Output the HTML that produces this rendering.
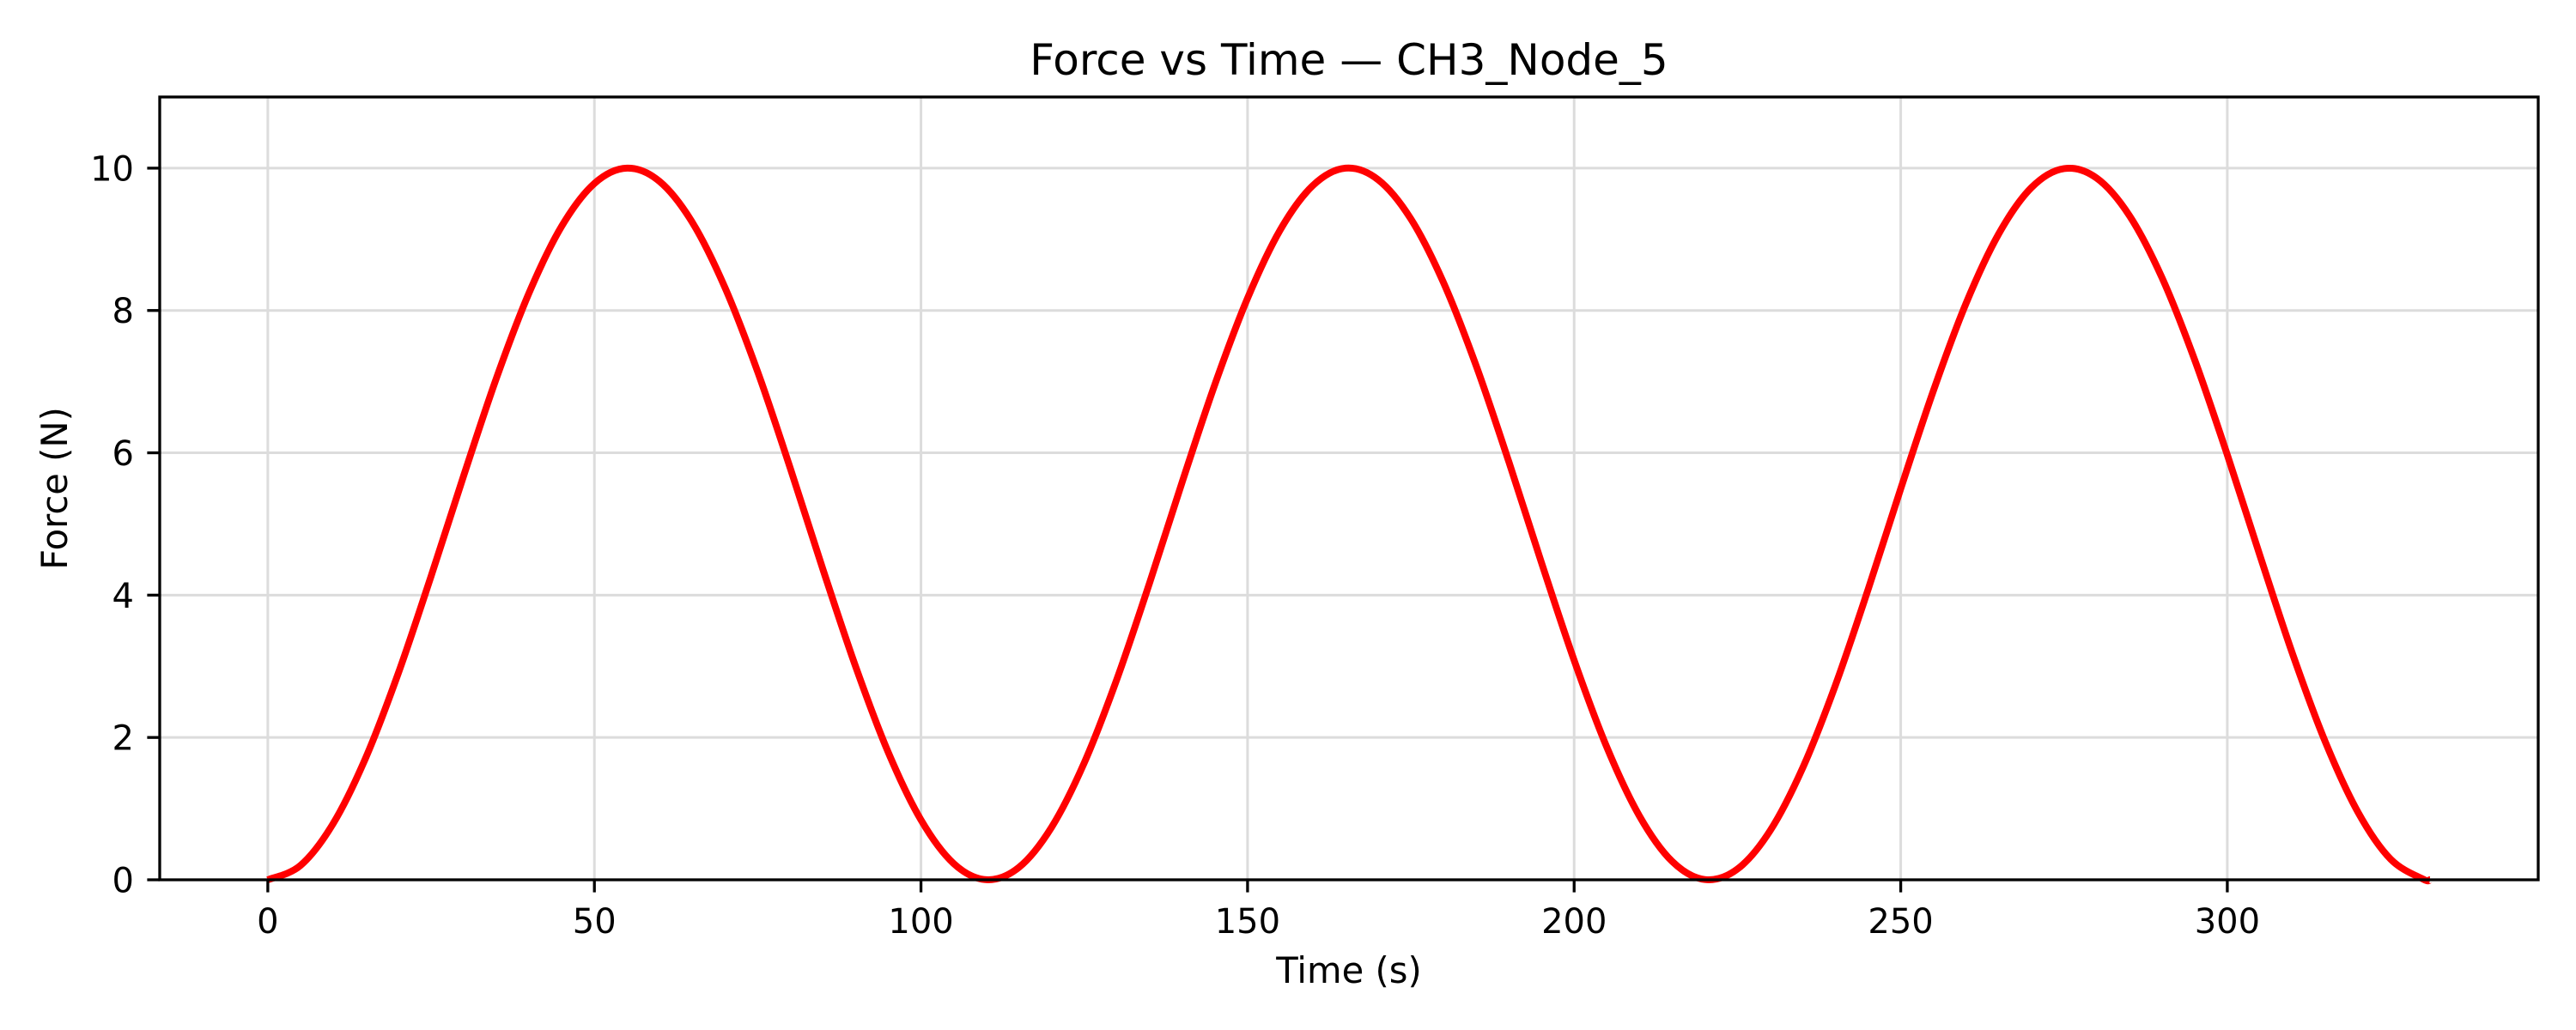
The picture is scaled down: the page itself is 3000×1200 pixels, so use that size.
<!DOCTYPE html>
<html><head><meta charset="utf-8"><style>
html,body{margin:0;padding:0;background:#fff;}
svg{display:block;font-family:"DejaVu Sans","Liberation Sans",sans-serif;}
</style></head><body>
<svg id="chart" width="3000" height="1200" viewBox="0 0 3000 1200">
<rect width="3000" height="1200" fill="#fff"/>
<g id="grid"></g>
<g id="series"></g>
<rect x="186" y="113" width="2770" height="912" fill="none" stroke="#000" stroke-width="3.3"/>
<g id="ticks"></g>
<text x="1571" y="87" font-size="50" text-anchor="middle">Force vs Time — CH3_Node_5</text>
<text x="1571" y="1145" font-size="41.7" text-anchor="middle">Time (s)</text>
<text x="78" y="569" font-size="41.7" text-anchor="middle" transform="rotate(-90 78 569)">Force (N)</text>
</svg>
<script>
const times = [0,5,10,15,20,25,30,35,40,45,50,55,60,65,70,75,80,85,90,95,100,105,110,115,120,125,130,135,140,145,150,155,160,165,170,175,180,185,190,195,200,205,210,215,220,225,230,235,240,245,250,255,260,265,270,275,280,285,290,295,300,305,310,315,320,325,330,331];
const forces = [0,0.201,0.789,1.716,2.908,4.267,5.682,7.049,8.248,9.185,9.785,10.0,9.812,9.237,8.320,7.138,5.781,4.359,2.995,1.789,0.841,0.229,0.001,0.175,0.739,1.644,2.821,4.172,5.592,6.962,8.172,9.132,9.756,10.0,9.837,9.287,8.391,7.223,5.875,4.456,3.084,1.864,0.896,0.259,0.004,0.151,0.689,1.574,2.734,4.078,5.495,6.872,8.100,9.076,9.726,9.994,9.860,9.335,8.461,7.307,5.971,4.555,3.172,1.939,0.951,0.290,0.008,0];
const xTicks = [0,50,100,150,200,250,300];
const yTicks = [0,2,4,6,8,10];
const NS='http://www.w3.org/2000/svg';
const L=186,R=2956,T=113,B=1025, xmin=-16.55,xmax=347.6,ymin=0,ymax=11;
const sx=v=>L+(v-xmin)/(xmax-xmin)*(R-L);
const sy=v=>B-(v-ymin)/(ymax-ymin)*(B-T);
const grid=document.getElementById('grid'), ticks=document.getElementById('ticks'), series=document.getElementById('series');
function mk(tag,attrs,parent){const e=document.createElementNS(NS,tag);for(const k in attrs)e.setAttribute(k,attrs[k]);parent.appendChild(e);return e;}
xTicks.forEach(v=>{
  const g=mk('line',{x1:sx(v),x2:sx(v),y1:T,y2:B,stroke:'#dcdcdc','stroke-width':3},grid);
  
  
  const t=mk('line',{x1:sx(v),x2:sx(v),y1:B,y2:B+14.6,stroke:'#000','stroke-width':3.3},ticks);
  
  
  const l=mk('text',{x:sx(v),y:1087,'font-size':40,'text-anchor':'middle'},ticks);
  l.textContent=v;
  
  
});
yTicks.forEach(v=>{
  const g=mk('line',{x1:L,x2:R,y1:sy(v),y2:sy(v),stroke:'#dcdcdc','stroke-width':3},grid);
  
  
  const t=mk('line',{x1:L-14.6,x2:L,y1:sy(v),y2:sy(v),stroke:'#000','stroke-width':3.3},ticks);
  
  
  const l=mk('text',{x:156,y:sy(v)+14.5,'font-size':40,'text-anchor':'end'},ticks);
  l.textContent=v;
  
  
});
const pts=times.map((t,i)=>[sx(t),sy(forces[i])]);
let d='M'+pts[0][0]+','+pts[0][1];
for(let i=0;i<pts.length-1;i++){
  const p0=pts[Math.max(0,i-1)],p1=pts[i],p2=pts[i+1],p3=pts[Math.min(pts.length-1,i+2)];
  const c1=[p1[0]+(p2[0]-p0[0])/6,p1[1]+(p2[1]-p0[1])/6];
  const c2=[p2[0]-(p3[0]-p1[0])/6,p2[1]-(p3[1]-p1[1])/6];
  d+=' C'+c1[0]+','+c1[1]+' '+c2[0]+','+c2[1]+' '+p2[0]+','+p2[1];
}
const line=mk('path',{d:d,fill:'none',stroke:'#ff0000','stroke-width':8,'stroke-linejoin':'round'},series);


</script>
</body></html>
